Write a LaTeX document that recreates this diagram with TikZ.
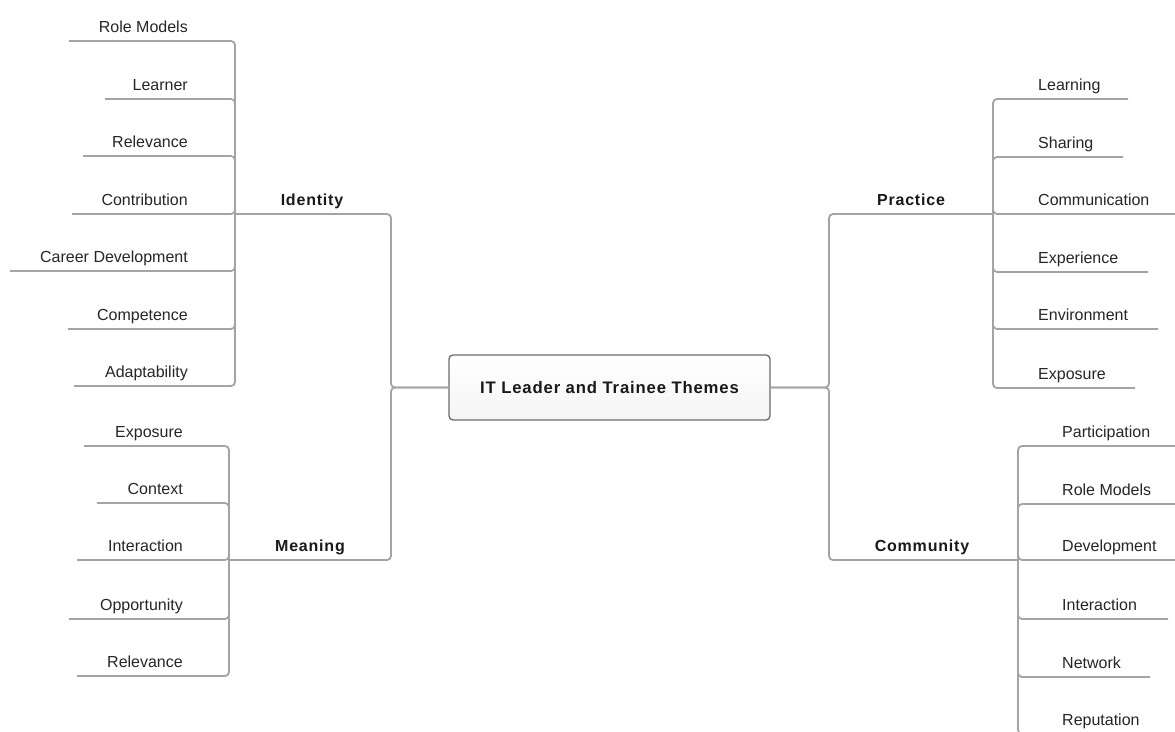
\documentclass[tikz,border=0pt]{standalone}
\usepackage{fontspec}
\setmainfont{Liberation Sans}
\newfontfamily\lblfont[LetterSpace=5]{Liberation Sans}
\usetikzlibrary{backgrounds}
\definecolor{linegray}{HTML}{A4A4A4}
\definecolor{boxgray}{HTML}{6A6A6A}
\definecolor{textdark}{HTML}{262626}
\tikzset{
  conn/.style={draw=linegray, line width=1.8pt, rounded corners=4pt},
  leaf/.style={font=\fontsize{16}{19}\selectfont, text=textdark, inner sep=0pt},
  theme/.style={font=\lblfont\bfseries\fontsize{16}{19}\selectfont, text=black!90, inner sep=0pt},
  hub/.style={rectangle, rounded corners=4pt, minimum width=321pt, minimum height=65pt,
    draw=boxgray, line width=1.3pt, top color=white, bottom color=black!4,
    font=\lblfont\bfseries\fontsize{16.7}{20}\selectfont, text=black!90, inner sep=0pt}
}
\begin{document}
\begin{tikzpicture}[x=1pt,y=-1pt]
\clip (0,0) rectangle (1175,731);
\fill[white] (0,0) rectangle (1175,731);
% central node
\node[hub] (C) at (609.5,387.5) {IT Leader and Trainee Themes};
\begin{scope}[on background layer]
  \fill[black!30, rounded corners=4pt] ([shift={(1.2,1.8)}]C.south west) rectangle ([shift={(1.2,1.8)}]C.north east);
\end{scope}
% junctions
\coordinate (jL) at (391,387.5);
\coordinate (jR) at (829,387.5);
\coordinate (idJ) at (235,214);
\coordinate (meJ) at (229,560);
\coordinate (prJ) at (993,214);
\coordinate (coJ) at (1018,560);
% theme labels
\node[theme, anchor=base] (id) at (312,205) {Identity};
\node[theme, anchor=base] (me) at (310,551) {Meaning};
\node[theme, anchor=base] (pr) at (911,205) {Practice};
\node[theme, anchor=base] (co) at (922,551) {Community};
% main connectors
\draw[conn] (C.west) -- (jL) |- (idJ);
\draw[conn] (C.west) -- (jL) |- (meJ);
\draw[conn] (C.east) -- (jR) |- (prJ);
\draw[conn] (C.east) -- (jR) |- (coJ);
% Identity leaves
\foreach \n/\t/\y/\e in {i1/Role Models/41/69, i2/Learner/99/105, i3/Relevance/156/83,
  i4/Contribution/214/72, i5/Career Development/271/10, i6/Competence/329/68, i7/Adaptability/386/74}{
  \node[leaf, anchor=base east] (\n) at (188,\y-9) {\t};
  \coordinate (\n E) at (\e,\y);
  \draw[conn] (idJ) |- (\n E);
}
% Meaning leaves
\foreach \n/\t/\y/\e in {m1/Exposure/446/84, m2/Context/503/97, m3/Interaction/560/77,
  m4/Opportunity/619/69, m5/Relevance/676/77}{
  \node[leaf, anchor=base east] (\n) at (183,\y-9) {\t};
  \coordinate (\n E) at (\e,\y);
  \draw[conn] (meJ) |- (\n E);
}
% Practice leaves
\foreach \n/\t/\y/\e in {p1/Learning/99/1128, p2/Sharing/157/1123, p3/Communication/214/1176,
  p4/Experience/272/1148, p5/Environment/329/1158, p6/Exposure/388/1135}{
  \node[leaf, anchor=base west] (\n) at (1038,\y-9) {\t};
  \coordinate (\n E) at (\e,\y);
  \draw[conn] (prJ) |- (\n E);
}
% Community leaves
\foreach \n/\t/\y/\e in {c1/Participation/446/1176, c2/Role Models/504/1176, c3/Development/560/1176,
  c4/Interaction/619/1168, c5/Network/677/1150, c6/Reputation/734/1160}{
  \node[leaf, anchor=base west] (\n) at (1062,\y-9) {\t};
  \coordinate (\n E) at (\e,\y);
  \draw[conn] (coJ) |- (\n E);
}
\end{tikzpicture}
\end{document}
